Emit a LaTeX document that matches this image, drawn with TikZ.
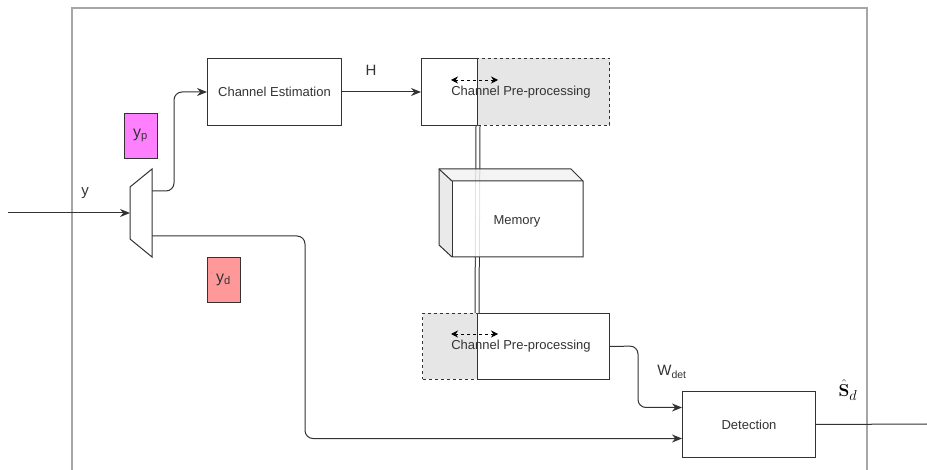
\documentclass[tikz,border=0pt]{standalone}
\usepackage[no-math]{fontspec}
\setmainfont{Liberation Sans}
\usetikzlibrary{arrows.meta, calc, positioning}
\usepackage{xcolor}
\definecolor{pilotpink}{RGB}{255,128,255}
\definecolor{datared}{RGB}{255,153,153}
\definecolor{shadegray}{RGB}{230,230,230}
\definecolor{linegray}{RGB}{51,51,51}

\begin{document}
\begin{tikzpicture}[
                x=1pt, y=-1pt,
                font=\fontsize{13}{15}\selectfont,
                text=linegray,
                block/.style={draw=linegray, line width=1pt, anchor=north west, inner sep=0pt},
                shadebox/.style={block, fill=shadegray, dashed},
                tagbox/.style={draw=linegray, line width=0.8pt, minimum width=33pt, minimum height=45pt, inner sep=0pt, font=\fontsize{16}{18}\selectfont},
                sigtext/.style={font=\fontsize{15}{17}\selectfont},
                conn/.style={draw=linegray, line width=1pt, -{Stealth[length=10pt, width=8pt]}},
                swap/.style={draw=black, line width=0.8pt, dashed, {Stealth[length=7pt, width=7pt]}-{Stealth[length=7pt, width=7pt]}}
                ]
                \useasboundingbox (0,0) rectangle (927,470);

                %% Frame
                \draw[gray!70, line width=1.2pt] (72,470) -- (72,8) -- (867,8) -- (867,470);

                %% Splitter
                \draw[linegray, line width=1pt] (130,187) -- (152,169) -- (152,257) -- (130,239) -- cycle;
                \coordinate (mux-in) at (130,213);
                \coordinate (mux-up) at (152,191);
                \coordinate (mux-dn) at (152,236);
                \coordinate (rx) at (8,213);

                \node[tagbox, fill=pilotpink] (yp) at (140.5,135.5) {y\textsubscript{p}};
                \node[tagbox, fill=datared] (yd) at (223.5,279.5) {y\textsubscript{d}};

                %% Blocks
                \node[block, minimum width=134pt, minimum height=67pt] (est) at (207,58) {Channel Estimation};

                \node[shadebox, minimum width=132pt, minimum height=67pt] (preb) at (477,58) {};
                \node[block, minimum width=56pt, minimum height=67pt] (prea) at (421,58) {};
                \node (pretxt) at (521,92) {Channel Pre-processing};
                \draw[swap] (451,80) -- (498,80);

                \node[shadebox, minimum width=55pt, minimum height=66pt] (posta) at (422,313) {};
                \node[block, minimum width=132pt, minimum height=66pt] (postb) at (477,313) {};
                \node (posttxt) at (521,346) {Channel Pre-processing};
                \draw[swap] (451,334) -- (498,334);

                % link through the memory
                \draw[linegray, line width=1pt, double, double distance=3pt] (prea.south east) -- (postb.north west);

                %% Memory
                \begin{scope}[draw=linegray, line width=1pt, fill opacity=0.85]
                \fill[fill=white!95!black] (439,169) -- (571,169) -- (583,181) -- (452,181) -- cycle;
                \fill[fill=shadegray] (439,169) -- (452,181) -- (452,257) -- (439,245) -- cycle;
                \fill[fill=white] (452,181) rectangle (583,257);
                \draw (439,169) -- (571,169) -- (583,181) -- (583,257) -- (452,257) -- (439,245) -- cycle;
                \draw (439,169) -- (452,181) -- (583,181);
                \draw (452,181) -- (452,257);
                \end{scope}
                \node (mem) at (517,221) {Memory};

                \node[block, minimum width=133pt, minimum height=66pt] (det) at (682,391) {Detection};
                \coordinate (tx) at (927,424);

                %% Connectors
                \draw[conn] (rx) -- (mux-in);
                \node[sigtext] (y) at (85,193) {y};
                \draw[conn, rounded corners=8pt] (mux-up) -- (174,191) |- (est.west);
                \draw[conn] (est.east) -- (prea.west);
                \node[sigtext] (h) at (371,70) {H};
                \draw[conn, rounded corners=8pt] (mux-dn) -- (305,236) |- ($(det.west)+(0,14)$);
                \draw[conn, rounded corners=8pt] (postb.east) -- (638,346) |- ($(det.west)+(0,-17)$);
                \node[sigtext] (wdet) at (672,372) {W\textsubscript{det}};
                \draw[linegray, line width=1pt] (det.east) -- (tx);
                \node[text=black, font=\fontsize{19}{21}\selectfont] (sd) at (848,390) {$\hat{\mathbf{S}}_d$};
\end{tikzpicture}
\end{document}
